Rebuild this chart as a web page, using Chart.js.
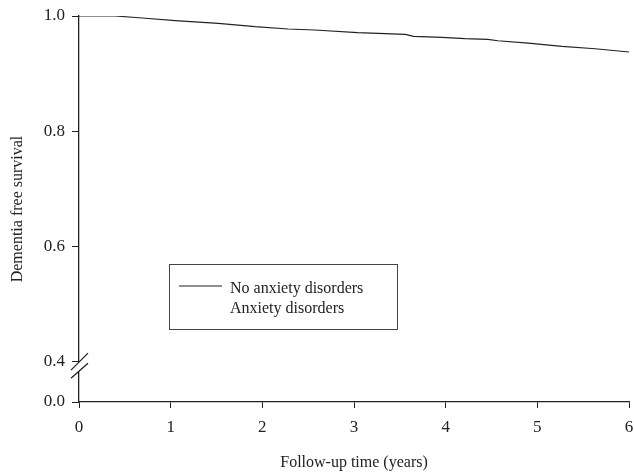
<!DOCTYPE html>
<html>
<head>
<meta charset="utf-8">
<script src="https://cdn.jsdelivr.net/npm/chart.js@4/dist/chart.umd.min.js"></script>
<style>
  html, body { margin: 0; padding: 0; background: #fff; }
  #wrap { width: 634px; height: 474px; }
</style>
</head>
<body>
<div id="wrap"><canvas id="myChart"></canvas></div>
<script>
// follow-up time (years) and survival
const years = [0, 0.39, 0.69, 1.05, 1.52, 1.92, 2.28, 2.57, 3.04, 3.56, 3.65, 3.96, 4.21, 4.46, 4.57, 4.9, 5.27, 5.63, 6.0];
const noAnxiety = [1.0, 1.0, 0.9965, 0.9918, 0.9873, 0.9814, 0.9774, 0.9757, 0.971, 0.9682, 0.9647, 0.963, 0.9606, 0.9595, 0.957, 0.953, 0.9473, 0.9431, 0.9374];
const seriesNames = ["No anxiety disorders", "Anxiety disorders"];

// broken y axis: the "0.0" tick sits just below 0.4
const yTickValues = [0.329, 0.4, 0.6, 0.8, 1.0];
const yTickLabels = ["0.0", "0.4", "0.6", "0.8", "1.0"];
const xTickValues = [0, 1, 2, 3, 4, 5, 6];

const serif = "'Liberation Serif', 'Times New Roman', serif";
const ink = "#222";

const ctx = document.getElementById("myChart").getContext("2d");

// little legend box inside the plot
const boxLegend = {
  id: "boxLegend",
  afterDraw(chart) {
    const c = chart.ctx;
    const area = chart.chartArea;
    const x = area.left + 90, y = area.top + 248;
    c.save();
    c.strokeStyle = "#444";
    c.lineWidth = 1;
    c.strokeRect(x + 0.5, y + 0.5, 228, 65);
    c.font = "16px " + serif;
    c.fillStyle = ink;
    c.textBaseline = "alphabetic";
    chart.data.datasets.forEach((ds, i) => {
      const ly = y + 22 + i * 20;
      if (ds.data.length) {
        c.strokeStyle = ds.borderColor;
        c.lineWidth = ds.borderWidth;
        c.beginPath();
        c.moveTo(x + 10, ly);
        c.lineTo(x + 53, ly);
        c.stroke();
      }
      c.fillText(ds.label, x + 61, ly + 7);
    });
    c.restore();
  },
};

// axis break marks around the 0.4 tick
const axisBreak = {
  id: "axisBreak",
  afterDraw(chart) {
    const c = chart.ctx;
    const ys = chart.scales.y;
    const x0 = ys.right;
    const y0 = ys.getPixelForValue(0.4);
    c.save();
    c.fillStyle = "#fff";
    c.beginPath();
    c.moveTo(x0 - 8, y0 + 9);
    c.lineTo(x0 + 9, y0 - 8);
    c.lineTo(x0 + 9, y0 + 2);
    c.lineTo(x0 - 8, y0 + 17);
    c.closePath();
    c.fill();
    c.strokeStyle = ink;
    c.lineWidth = 1.3;
    c.beginPath();
    c.moveTo(x0 - 8, y0 + 9);
    c.lineTo(x0 + 9, y0 - 8);
    c.moveTo(x0 - 8, y0 + 17);
    c.lineTo(x0 + 9, y0 + 2);
    c.stroke();
    c.restore();
  },
};

const myChart = new Chart(ctx, {
  type: "line",
  data: {
    datasets: [
      {
        label: seriesNames[0],
        data: years.map((t, i) => ({ x: t, y: noAnxiety[i] })),
        borderColor: ink,
        borderWidth: 1.2,
        pointRadius: 0,
        tension: 0,
        fill: false,
      },
      {
        label: seriesNames[1],
        data: [],
        borderColor: ink,
        borderWidth: 1.2,
        pointRadius: 0,
      },
    ],
  },
  options: {
    responsive: true,
    maintainAspectRatio: false,
    animation: false,
    layout: { padding: { left: 0, right: 5, top: 16, bottom: 0 } },
    scales: {
      x: {
        type: "linear",
        min: 0,
        max: 6,
        afterBuildTicks: (scale) => {
          scale.ticks = xTickValues.map((v) => ({ value: v }));
        },
        afterFit: (scale) => {
          scale.height = 72;
          scale.paddingLeft = 0;
          scale.paddingRight = 0;
        },
        grid: { drawOnChartArea: false, drawTicks: true, tickLength: 6, color: ink },
        border: { display: true, color: ink, width: 1.3 },
        ticks: {
          color: ink,
          padding: 9,
          maxRotation: 0,
          font: { family: serif, size: 17 },
          callback: (v) => String(v),
        },
        title: {
          display: true,
          text: "Follow-up time (years)",
          color: ink,
          font: { family: serif, size: 16 },
          padding: { top: 0, bottom: 2 },
        },
      },
      y: {
        type: "linear",
        min: yTickValues[0],
        max: 1.0,
        afterBuildTicks: (scale) => {
          scale.ticks = yTickValues.map((v) => ({ value: v }));
        },
        afterFit: (scale) => {
          scale.width = 79;
          scale.paddingTop = 0;
          scale.paddingBottom = 0;
        },
        grid: { drawOnChartArea: false, drawTicks: true, tickLength: 7, color: ink },
        border: { display: true, color: ink, width: 1.3 },
        ticks: {
          color: ink,
          padding: 7,
          font: { family: serif, size: 17 },
          callback: (v, i) => yTickLabels[i],
        },
        title: {
          display: true,
          text: "Dementia free survival",
          color: ink,
          font: { family: serif, size: 16 },
          padding: { top: 8, bottom: 0 },
        },
      },
    },
    plugins: {
      legend: { display: false },
      tooltip: { enabled: false },
    },
  },
  plugins: [boxLegend, axisBreak],
});
</script>
</body>
</html>
